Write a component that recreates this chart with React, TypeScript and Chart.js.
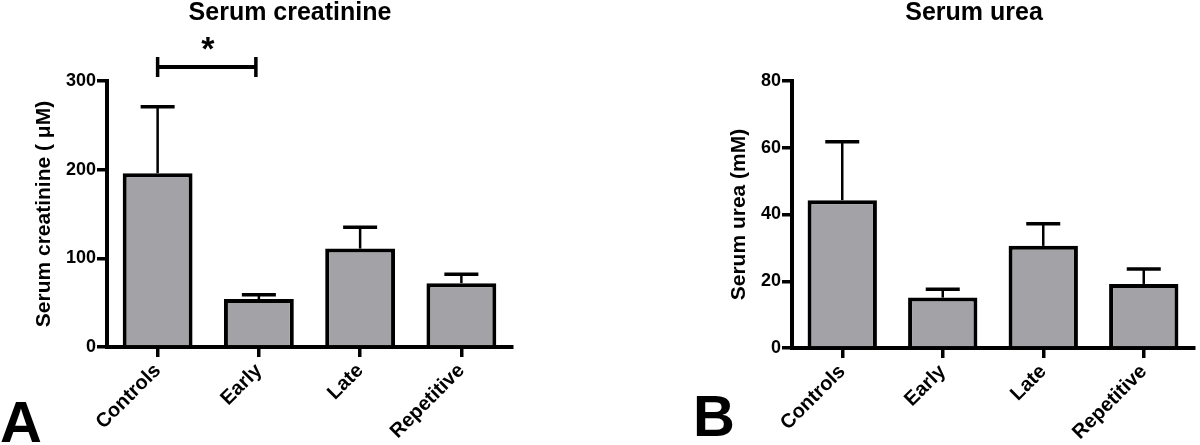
import React, { useEffect, useRef } from "react";
import { Chart, registerables } from "chart.js";

Chart.register(...registerables);

const FONT = "'Liberation Sans', Arial, Helvetica, sans-serif";

// ---- data ----
const categories = ["Controls", "Early", "Late", "Repetitive"];
const creatinineMean = [196, 54, 111, 72];
const creatinineSem = [75, 5, 24, 10];
const ureaMean = [44.3, 15.1, 30.6, 19.2];
const ureaSem = [17.5, 2.5, 6.6, 4.5];
const creatinineAxis = { max: 300, step: 100 };
const ureaAxis = { max: 80, step: 20 };
const significance = { from: 0, to: 1, label: "*" };

type PanelProps = {
  left: number;
  title: string;
  titleX: number;
  yTitle: string;
  values: number[];
  errors: number[];
  yMax: number;
  yStep: number;
  letter: string;
  letterX: number;
  letterY: number;
  padLeft: number;
  yWidth: number;
  padRight: number;
  xHeight: number;
  bracket?: { from: number; to: number; label: string };
};

function Panel(p: PanelProps) {
  const ref = useRef<HTMLCanvasElement | null>(null);

  useEffect(() => {
    if (!ref.current) return;
    const overlay = {
      id: "overlay",
      afterDatasetsDraw(chart: any) {
        const ctx = chart.ctx;
        const meta = chart.getDatasetMeta(0);
        const y = chart.scales.y;
        ctx.save();
        ctx.strokeStyle = "#000";
        ctx.lineCap = "butt";
        meta.data.forEach((bar: any, i: number) => {
          const top = y.getPixelForValue(p.values[i]);
          const errTop = y.getPixelForValue(p.values[i] + p.errors[i]);
          ctx.lineWidth = 2.5;
          ctx.beginPath();
          ctx.moveTo(bar.x, top);
          ctx.lineTo(bar.x, errTop);
          ctx.stroke();
          ctx.lineWidth = 3.5;
          ctx.beginPath();
          ctx.moveTo(bar.x - 17, errTop);
          ctx.lineTo(bar.x + 17, errTop);
          ctx.stroke();
        });
        ctx.restore();
      },
      afterDraw(chart: any) {
        const ctx = chart.ctx;
        ctx.save();
        ctx.fillStyle = "#000";
        ctx.textBaseline = "alphabetic";
        ctx.textAlign = "center";
        ctx.font = `bold 25px ${FONT}`;
        ctx.fillText(p.title, p.titleX, 20);
        ctx.textAlign = "left";
        ctx.font = `bold 58px ${FONT}`;
        ctx.fillText(p.letter, p.letterX, p.letterY);
        if (p.bracket) {
          const meta = chart.getDatasetMeta(0);
          const x0 = meta.data[p.bracket.from].x;
          const x1 = meta.data[p.bracket.to].x - 3;
          const by = chart.chartArea.top - 14;
          ctx.strokeStyle = "#000";
          ctx.lineWidth = 4;
          ctx.beginPath();
          ctx.moveTo(x0, by);
          ctx.lineTo(x1, by);
          ctx.stroke();
          ctx.lineWidth = 3.5;
          ctx.beginPath();
          ctx.moveTo(x0, by - 10);
          ctx.lineTo(x0, by + 10);
          ctx.moveTo(x1, by - 10);
          ctx.lineTo(x1, by + 10);
          ctx.stroke();
          ctx.font = `bold 34px ${FONT}`;
          ctx.textAlign = "center";
          const m = ctx.measureText(p.bracket.label);
          const cy = by - 24;
          const base = cy + (m.actualBoundingBoxAscent - m.actualBoundingBoxDescent) / 2;
          ctx.fillText(p.bracket.label, (x0 + x1) / 2 + 1, base);
        }
        ctx.restore();
      },
    };

    const chart = new Chart(ref.current, {
      type: "bar",
      data: {
        labels: categories,
        datasets: [
          {
            data: p.values,
            backgroundColor: "#a2a2a7",
            borderColor: "#000",
            borderWidth: 4,
            borderSkipped: "start",
            categoryPercentage: 1,
            barPercentage: 0.69,
          },
        ],
      },
      options: {
        animation: false,
        responsive: true,
        maintainAspectRatio: false,
        layout: {
          padding: { left: p.padLeft, right: p.padRight, top: 81, bottom: 0 },
        },
        plugins: {
          legend: { display: false },
          title: { display: false },
          tooltip: { enabled: false },
        },
        scales: {
          x: {
            type: "category",
            offset: true,
            afterFit: (s: any) => {
              s.height = p.xHeight;
            },
            grid: {
              offset: false,
              drawOnChartArea: false,
              drawTicks: true,
              tickLength: 10,
              color: "#000",
              lineWidth: 3.5,
            },
            border: { display: true, color: "#000", width: 4 },
            ticks: {
              autoSkip: false,
              minRotation: 45,
              maxRotation: 45,
              color: "#000",
              padding: 2,
              font: { family: FONT, size: 20, weight: "bold" },
            },
          },
          y: {
            min: 0,
            max: p.yMax,
            afterFit: (s: any) => {
              s.width = p.yWidth;
            },
            grid: {
              drawOnChartArea: false,
              drawTicks: true,
              tickLength: 10,
              color: "#000",
              lineWidth: 3.5,
            },
            border: { display: true, color: "#000", width: 4 },
            ticks: {
              stepSize: p.yStep,
              color: "#000",
              padding: 1,
              font: { family: FONT, size: 18, weight: "bold" },
            },
            title: {
              display: true,
              text: p.yTitle,
              color: "#000",
              padding: { top: 32, bottom: 0 },
              font: { family: FONT, size: 21, weight: "bold", lineHeight: 1.2 },
            },
          },
        },
      },
      plugins: [overlay],
    } as any);
    return () => chart.destroy();
  }, []);

  return (
    <div
      style={{
        position: "absolute",
        left: p.left,
        top: 0,
        width: 600,
        height: 445,
      }}
    >
      <canvas ref={ref} />
    </div>
  );
}

export default function App() {
  useEffect(() => {
    document.body.style.margin = "0";
    document.body.style.background = "#fff";
  }, []);
  return (
    <div style={{ position: "relative", width: 1200, height: 445, background: "#fff" }}>
      <Panel
        left={0}
        title="Serum creatinine"
        titleX={290}
        yTitle="Serum creatinine ( μM)"
        values={creatinineMean}
        errors={creatinineSem}
        yMax={creatinineAxis.max}
        yStep={creatinineAxis.step}
        letter="A"
        letterX={0}
        letterY={442}
        padLeft={0}
        yWidth={107}
        padRight={88}
        xHeight={98}
        bracket={significance}
      />
      <Panel
        left={600}
        title="Serum urea"
        titleX={374}
        yTitle="Serum urea (mM)"
        values={ureaMean}
        errors={ureaSem}
        yMax={ureaAxis.max}
        yStep={ureaAxis.step}
        letter="B"
        letterX={93}
        letterY={436}
        padLeft={95}
        yWidth={97}
        padRight={6}
        xHeight={97}
      />
    </div>
  );
}
